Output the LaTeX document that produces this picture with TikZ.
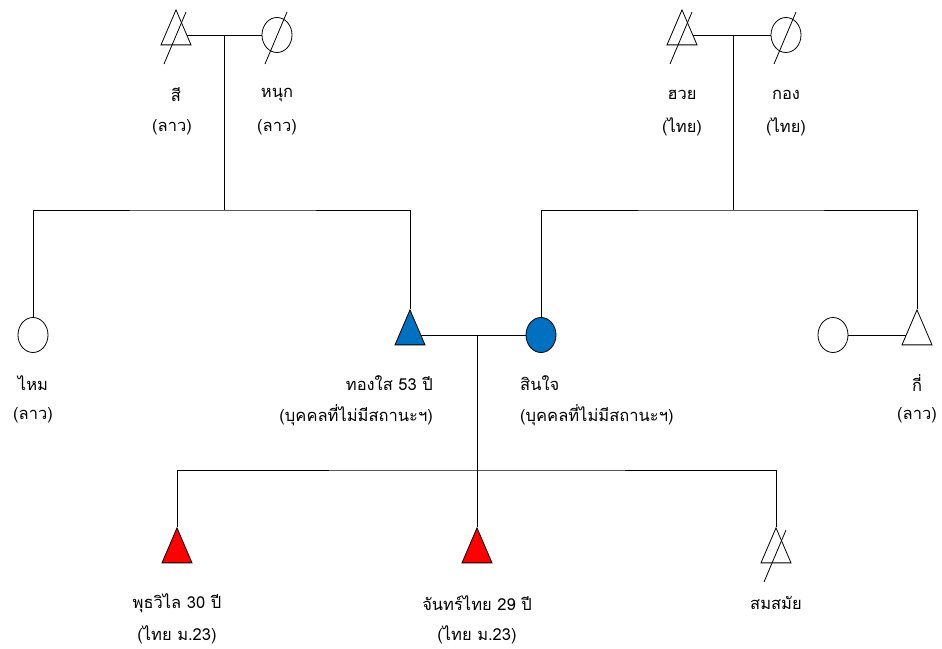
\documentclass[tikz,border=0pt]{standalone}
\usepackage{fontspec}
\newfontfamily\thaifont[Script=Thai]{Loma}
\usetikzlibrary{shapes.geometric}

\tikzset{
  male/.style={isosceles triangle,isosceles triangle apex angle=48,isosceles triangle stretches,
    shape border rotate=90,minimum width=30pt,minimum height=35pt,inner sep=0pt,draw,line width=0.8pt},
  female/.style={ellipse,minimum width=30pt,minimum height=35pt,inner sep=0pt,draw,line width=0.8pt},
  tag/.style={font=\thaifont\fontsize{16.5pt}{19pt}\selectfont,inner sep=0pt},
  kin/.style={line width=0.8pt}
}
\definecolor{egoblue}{RGB}{0,112,192}

\begin{document}
\begin{tikzpicture}[x=1pt,y=-1pt]
  \useasboundingbox[fill=white] (0,0) rectangle (942,648);

  % grandparents
  \node[male] (si) at (176,35) {};
  \node[female] (nuk) at (277,35) {};
  \node[male] (huay) at (682,35) {};
  \node[female] (kong) at (786,35) {};

  % parents generation
  \node[female] (mai) at (33,335) {};
  \node[male,fill=egoblue] (thongsai) at (410,335) {};
  \node[female,fill=egoblue] (sinjai) at (541,335) {};
  \node[female] (wife) at (833,335) {};
  \node[male] (ki) at (917,335) {};

  % children
  \node[male,fill=red] (phutwilai) at (177,553) {};
  \node[male,fill=red] (janthai) at (477,553) {};
  \node[male] (somsamai) at (776,553) {};

  % deceased
  \foreach \n in {si,nuk,huay,kong,somsamai}
    \draw[kin] (\n.center) ++(10,-23) -- ++(-22,52);

  \coordinate (m1) at (224,35);
  \coordinate (s1) at (224,210);
  \coordinate (m2) at (733,35);
  \coordinate (s2) at (733,210);
  \coordinate (m3) at (477,335);
  \coordinate (s3) at (477,470);

  \draw[kin] (si) -- (nuk);
  \draw[kin] (huay) -- (kong);
  \draw[kin] (thongsai) -- (sinjai);
  \draw[kin] (wife) -- (ki);

  \draw[kin] (m1) -- (s1);
  \draw[kin] (mai.north) |- (s1) -| (thongsai.north);
  \draw[kin] (m2) -- (s2);
  \draw[kin] (sinjai.north) |- (s2) -| (ki.north);
  \draw[kin] (m3) -- (janthai.north);
  \draw[kin] (phutwilai.north) |- (s3) -| (somsamai.north);

  % labels
  \node[tag] (l-si) at (176,95) {สี};
  \node[tag] (l-si2) at (172,127) {(ลาว)};
  \node[tag] (l-nuk) at (277,95) {หนุก};
  \node[tag] (l-nuk2) at (277,127) {(ลาว)};
  \node[tag] (l-huay) at (682,95) {ฮวย};
  \node[tag] (l-huay2) at (682,127) {(ไทย)};
  \node[tag] (l-kong) at (786,95) {กอง};
  \node[tag] (l-kong2) at (786,127) {(ไทย)};
  \node[tag] (l-mai) at (33,383) {ไหม};
  \node[tag] (l-mai2) at (33,415) {(ลาว)};
  \node[tag,anchor=east] (l-thongsai) at (433,383) {ทองใส 53 ปี};
  \node[tag,anchor=east] (l-thongsai2) at (433,415) {(บุคคลที่ไม่มีสถานะฯ)};
  \node[tag,anchor=west] (l-sinjai) at (520,383) {สินใจ};
  \node[tag,anchor=west] (l-sinjai2) at (520,415) {(บุคคลที่ไม่มีสถานะฯ)};
  \node[tag] (l-ki) at (917,383) {กี่};
  \node[tag] (l-ki2) at (917,415) {(ลาว)};
  \node[tag] (l-phutwilai) at (177,603) {พุธวิไล 30 ปี};
  \node[tag] (l-phutwilai2) at (177,635) {(ไทย ม.23)};
  \node[tag] (l-janthai) at (477,603) {จันทร์ไทย 29 ปี};
  \node[tag] (l-janthai2) at (477,635) {(ไทย ม.23)};
  \node[tag] (l-somsamai) at (776,603) {สมสมัย};
\end{tikzpicture}
\end{document}
